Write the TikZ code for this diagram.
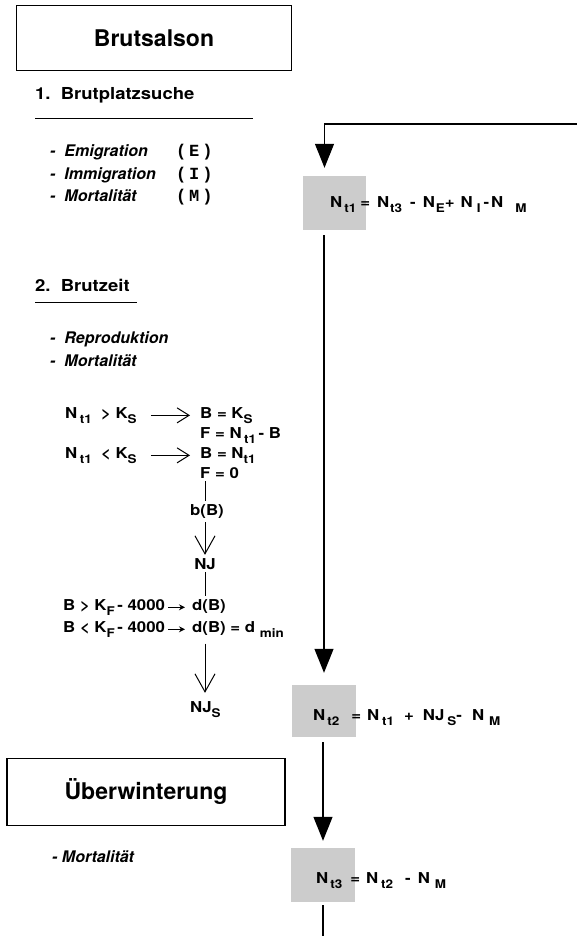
\documentclass[tikz,border=0pt]{standalone}
\usepackage{fontspec}
\setmainfont{TeX Gyre Heros}
\setmonofont{Liberation Mono}
\newfontfamily\widefont[FakeStretch=1.12]{TeX Gyre Heros}
\usetikzlibrary{arrows.meta}
\newcommand\dn[1]{\raisebox{-5.5pt}{\fontsize{12}{12}\selectfont #1}}
\tikzset{
  titlebox/.style={draw, line width=1.6pt, minimum width=275pt, minimum height=65pt,
    font=\fontsize{23}{26}\selectfont\bfseries},
  head/.style={anchor=base west, inner sep=0pt, font=\widefont\fontsize{16.5}{18}\selectfont\bfseries},
  item/.style={anchor=base west, inner sep=0pt, font=\fontsize{16}{18}\selectfont\bfseries\itshape},
  code/.style={anchor=base west, inner sep=0pt, font=\fontsize{17}{18}\selectfont\ttfamily\bfseries},
  rel/.style={anchor=base west, inner sep=0pt, font=\widefont\fontsize{15}{17}\selectfont\bfseries},
  shadebox/.style={fill=black!20, inner sep=0pt},
  fat/.style={line width=1.2pt, -{Triangle[length=24pt,width=19pt]}},
  vee/.style={line width=1pt, -{Straight Barb[length=18pt,width=20pt]}},
  barb/.style={line width=1pt, -{Straight Barb[length=12pt,width=15pt]}},
  tiny/.style={line width=1pt, -{Stealth[length=6pt,width=6pt]}}
}
\begin{document}
\begin{tikzpicture}[x=1pt,y=-1pt]
    \useasboundingbox (0,0) rectangle (577,936);
    % Brutsalson
    \node[titlebox] (brut) at (154,38) {Brutsalson};
    \node[head] (sec1) at (35,100) {1.\ \ Brutplatzsuche};
    \draw[line width=1pt] ([yshift=-19pt]sec1.base west) -- ++(218,0);
    \node[item] (em) at (50,157) {-\ \ Emigration};
    \node[code] (emc) at (176,157) {(\,E\,)};
    \node[item] (im) at (50,179) {-\ \ Immigration};
    \node[code] (imc) at (176,179) {(\,I\,)};
    \node[item] (mo) at (50,201) {-\ \ Mortalität};
    \node[code] (moc) at (176,201) {(\,M\,)};

    \node[head] (sec2) at (35,291) {2.\ \ Brutzeit};
    \draw[line width=1pt] ([yshift=-11pt]sec2.base west) -- ++(102,0);
    \node[item] (rep) at (50,343) {-\ \ Reproduktion};
    \node[item] (mo2) at (50,366) {-\ \ Mortalität};

    % Brutplaetze
    \node[rel] (c1) at (65,418) {N\,\dn{t1}\ \ > K\dn{S}};
    \node[rel] (r1) at (200,418) {B = K\dn{S}};
    \node[rel] (r2) at (200,438) {F = N\,\dn{t1}\,- B};
    \node[rel] (c2) at (65,458) {N\,\dn{t1}\ \ < K\dn{S}};
    \node[rel] (r3) at (200,458) {B = N\dn{t1}};
    \node[rel] (r4) at (200,478) {F = 0};
    \draw[barb, shorten <=14pt, shorten >=10pt] (c1.east) -- (c1.east -| r1.west);
    \draw[barb, shorten <=14pt, shorten >=10pt] (c2.east) -- (c2.east -| r3.west);

    % Jungvoegel
    \node[rel, anchor=base] (bb) at (207,515) {b(B)};
    \node[rel, anchor=base] (nj) at (205,569) {NJ};
    \draw[line width=1pt, shorten <=3pt, shorten >=3pt] (nj.north |- r4.south) -- (nj.north |- bb.north);
    \draw[vee, shorten <=4pt, shorten >=3pt] (nj.north |- bb.south) -- (nj.north);
    \node[rel] (k1) at (63,610) {B > K\dn{F}\,- 4000};
    \node[rel] (d1) at (192,610) {d(B)};
    \node[rel] (k2) at (63,632) {B < K\dn{F}\,- 4000};
    \node[rel] (d2) at (192,632) {d(B) = d\ \dn{min}};
    \draw[tiny, shorten <=3pt, shorten >=7pt] (k1.east) -- (k1.east -| d1.west);
    \draw[tiny, shorten <=3pt, shorten >=7pt] (k2.east) -- (k2.east -| d2.west);
    \draw[line width=1pt, shorten <=3pt, shorten >=3pt] (nj.south) -- (nj.south |- d1.north);
    \node[rel] (njs) at (190,712) {NJ\dn{S}};
    \draw[vee, shorten <=6pt, shorten >=8pt] (nj.south |- d2.south) -- (nj.south |- njs.north);

    % Ueberwinterung
    \node[titlebox, minimum width=278pt, minimum height=67pt] (wint) at (146,792) {Überwinterung};
    \node[item] (mo3) at (52,862) {- Mortalität};

    % Bestaende
    \node[shadebox, minimum width=63pt, minimum height=54pt] (s1) at (334.5,203) {};
    \node[rel] (f1) at (330,207) {N\hspace{2pt}\dn{t1}\hspace{4pt}=\hspace{7pt}N\hspace{1pt}\dn{t3}\hspace{8pt}-\hspace{7pt}N\hspace{1pt}\dn{E}+\hspace{6pt}N\hspace{4pt}\dn{I}\hspace{3pt}-\hspace{2pt}N\hspace{12pt}\dn{M}};
    \node[shadebox, minimum width=64pt, minimum height=52pt] (s2) at (324,711) {};
    \node[rel] (f2) at (313,720) {N\hspace{2pt}\dn{t2}\hspace{12pt}=\hspace{6pt}N\hspace{3pt}\dn{t1}\hspace{10pt}+\hspace{9pt}NJ\hspace{3pt}\dn{S}-\hspace{10pt}N\hspace{5pt}\dn{M}};
    \node[shadebox, minimum width=64pt, minimum height=54pt] (s3) at (323,875) {};
    \node[rel] (f3) at (316,883) {N\hspace{2pt}\dn{t3}\hspace{8pt}=\hspace{6pt}N\hspace{3pt}\dn{t2}\hspace{12pt}-\hspace{7pt}N\hspace{5pt}\dn{M}};

    \coordinate (loop) at (577,124);
    \coordinate (exit) at (322,936);
    \draw[fat, shorten >=8pt] (loop) -| ([xshift=-10pt]s1.north);
    \draw[fat, shorten <=5pt, shorten >=12pt] (s2.north |- s1.south) -- (s2.north);
    \draw[fat, shorten <=5pt, shorten >=7pt] (s3.north |- s2.south) -- (s3.north);
    \draw[line width=1.2pt, shorten <=3pt] (s3.south) -- (s3.south |- exit);
\end{tikzpicture}
\end{document}
